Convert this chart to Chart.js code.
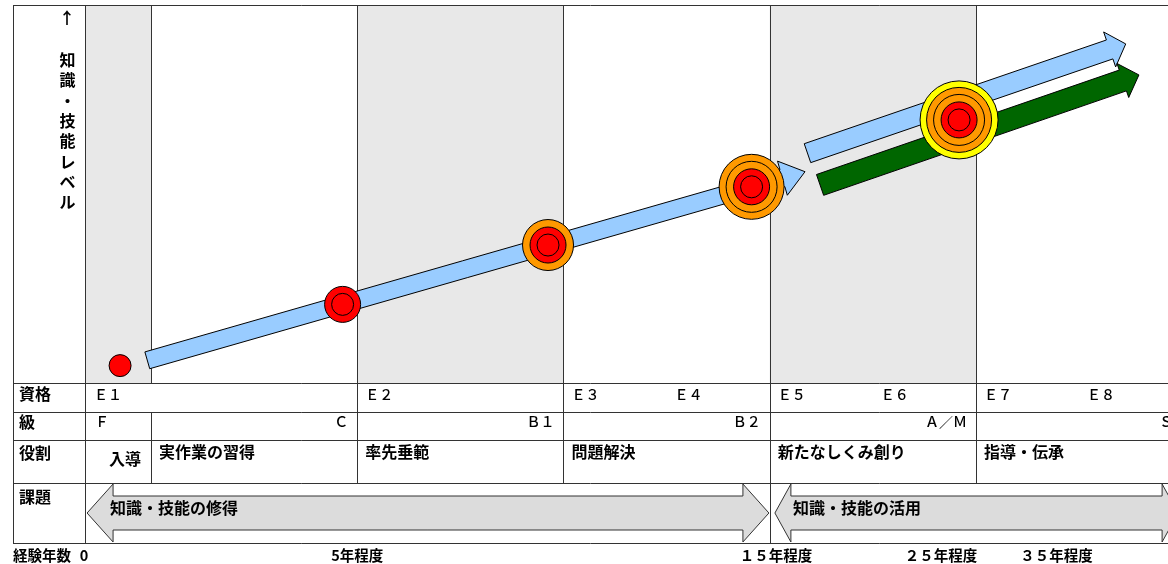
<!DOCTYPE html>
<html>
<head>
<meta charset="utf-8">
<script src="https://cdn.jsdelivr.net/npm/chart.js@4.4.1/dist/chart.umd.min.js"></script>
<style>
  html, body { margin: 0; padding: 0; background: #fff; }
  canvas { display: block; }
</style>
</head>
<body>
<canvas id="growthChart" width="1168" height="564"></canvas>
<script>
// x axis runs in stage units: each career stage is one unit wide,
// the narrow 入導 column sits left of 0
const stageNames = ["入導", "実作業の習得", "率先垂範", "問題解決", "新たなしくみ創り", "指導・伝承"];
const stageEdges = [-0.315, 0, 1, 2, 3, 4];
const shadedStages = [0, 2, 4];
const rowTitles = ["資格", "級", "役割", "課題"];
const yTitle = "知識・技能レベル";
const xTitle = "経験年数";

const qualLabels = ["Ｅ１", "Ｅ２", "Ｅ３", "Ｅ４", "Ｅ５", "Ｅ６", "Ｅ７", "Ｅ８"];
const qualAt = [-0.315, 1, 2, 2.5, 3, 3.5, 4, 4.5];
const gradeLabels = ["Ｆ", "Ｃ", "Ｂ１", "Ｂ２", "Ａ／Ｍ", "Ｓ"];

const taskLabels = ["知識・技能の修得", "知識・技能の活用"];
const taskFrom = [-0.31, 3.025];
const taskTo = [2.996, 4.98];

const yearLabels = ["0", "5年程度", "１５年程度", "２５年程度", "３５年程度"];
const yearAt = [-0.325, 1.0, 3.03, 3.83, 4.39];

// milestones along the growth path (level 0-100)
const milestoneStage = [-0.15, 0.929, 1.925, 2.912, 3.918];
const milestoneLevel = [4.6, 20.8, 36.5, 51.9, 69.6];
const milestoneRings = [1, 2, 3, 4, 5];

// growth arrows
const arrowFromStage = [-0.018, 3.183, 3.244];
const arrowFromLevel = [6.0, 60.8, 52.4];
const arrowToStage = [3.171, 4.726, 4.79];
const arrowToLevel = [55.9, 89.7, 81.5];

// styles
const ringRadius = [11, 18, 25.5, 32.5, 39];
const ringColor = ["#ff0000", "#ff0000", "#ff9900", "#ff9900", "#ffff00"];
const arrowFill = ["#99ccff", "#99ccff", "#006600"];
const arrowShaft = [17.5, 20, 22];
const arrowHead = [35.5, 37, 36];
const arrowHeadLen = [23.5, 17, 17];
const taskHeadLen = [26, 16];
const JP = "'Noto Sans CJK JP', 'Noto Sans', sans-serif";
const lineColor = "#333";

const bubbleSets = ringRadius.map((r, d) => ({
  data: milestoneStage
    .map((x, i) => ({ x: x, y: milestoneLevel[i] }))
    .filter((p, i) => milestoneRings[i] > d),
  pointRadius: r,
  pointBackgroundColor: ringColor[d],
  pointBorderColor: "#000",
  pointBorderWidth: 1,
}));

function hLine(ctx, x0, x1, y) {
  ctx.beginPath();
  ctx.moveTo(x0, Math.round(y) + 0.5);
  ctx.lineTo(x1, Math.round(y) + 0.5);
  ctx.stroke();
}
function vLine(ctx, x, y0, y1) {
  ctx.beginPath();
  ctx.moveTo(Math.round(x) + 0.5, y0);
  ctx.lineTo(Math.round(x) + 0.5, y1);
  ctx.stroke();
}

function blockArrow(ctx, sx, sy, tx, ty, shaft, head, headLen) {
  const len = Math.hypot(tx - sx, ty - sy);
  const ux = (tx - sx) / len, uy = (ty - sy) / len;
  const nx = -uy, ny = ux;
  const bx = tx - ux * headLen, by = ty - uy * headLen;
  const w = shaft / 2, h = head / 2;
  ctx.beginPath();
  ctx.moveTo(sx + nx * w, sy + ny * w);
  ctx.lineTo(bx + nx * w, by + ny * w);
  ctx.lineTo(bx + nx * h, by + ny * h);
  ctx.lineTo(tx, ty);
  ctx.lineTo(bx - nx * h, by - ny * h);
  ctx.lineTo(bx - nx * w, by - ny * w);
  ctx.lineTo(sx - nx * w, sy - ny * w);
  ctx.closePath();
}

function twoWayArrow(ctx, x0, x1, yTop, yBot, sTop, sBot, headLen) {
  const yMid = (yTop + yBot) / 2;
  ctx.beginPath();
  ctx.moveTo(x0, yMid);
  ctx.lineTo(x0 + headLen, yTop);
  ctx.lineTo(x0 + headLen, sTop);
  ctx.lineTo(x1 - headLen, sTop);
  ctx.lineTo(x1 - headLen, yTop);
  ctx.lineTo(x1, yMid);
  ctx.lineTo(x1 - headLen, yBot);
  ctx.lineTo(x1 - headLen, sBot);
  ctx.lineTo(x0 + headLen, sBot);
  ctx.lineTo(x0 + headLen, yBot);
  ctx.closePath();
}

// background columns, grid and the table under the plot
const tablePlugin = {
  id: "tablePlugin",
  beforeDatasetsDraw(chart) {
    const ctx = chart.ctx;
    const xs = chart.scales.x;
    const ys = chart.scales.y;
    const area = chart.chartArea;
    const px = (v) => xs.getPixelForValue(v);
    const left = 13, right = chart.width;
    const rows = [area.bottom, 412, 440, 483, 543];

    ctx.save();
    ctx.fillStyle = "#fff";
    ctx.fillRect(0, 0, chart.width, chart.height);

    // shaded stage columns
    ctx.fillStyle = "#e8e8e8";
    shadedStages.forEach((s) => {
      const x0 = px(stageEdges[s]);
      const x1 = s + 1 < stageEdges.length ? px(stageEdges[s + 1]) : right;
      ctx.fillRect(x0, area.top, x1 - x0, area.bottom - area.top);
    });

    ctx.strokeStyle = lineColor;
    ctx.lineWidth = 1;
    hLine(ctx, left, right, area.top);
    rows.forEach((y) => hLine(ctx, left, right, y));
    vLine(ctx, left, area.top, rows[4]);
    vLine(ctx, area.left - 1, area.top, rows[4]);
    // plot columns
    stageEdges.slice(1).forEach((e) => vLine(ctx, px(e), area.top, rows[0]));
    // 資格 row
    stageEdges.slice(2).forEach((e) => vLine(ctx, px(e), rows[0], rows[1]));
    // 級 and 役割 rows
    stageEdges.slice(1).forEach((e) => vLine(ctx, px(e), rows[1], rows[3]));
    // 課題 row
    vLine(ctx, px(3), rows[3], rows[4]);

    // task arrows
    ctx.fillStyle = "#dcdcdc";
    ctx.strokeStyle = "#333";
    taskLabels.forEach((t, i) => {
      twoWayArrow(ctx, px(taskFrom[i]), px(taskTo[i]), 484, 542, 496, 530, taskHeadLen[i]);
      ctx.fill();
      ctx.stroke();
    });

    // texts
    ctx.fillStyle = "#000";
    ctx.textBaseline = "middle";
    ctx.textAlign = "left";
    ctx.font = "bold 16px " + JP;
    const titleY = [394, 422, 453, 497];
    rowTitles.forEach((t, i) => ctx.fillText(t, 19, titleY[i]));

    // y axis title, written top to bottom
    ctx.textAlign = "center";
    ctx.fillText("↑", 67, 18);
    [...yTitle].forEach((ch, i) => ctx.fillText(ch, 67.5, 60 + i * 20.3));

    ctx.textAlign = "left";
    ctx.font = "500 14px " + JP;
    qualLabels.forEach((t, i) => ctx.fillText(t, px(qualAt[i]) + 8, 395));

    gradeLabels.forEach((t, i) => {
      if (i === 0) {
        ctx.textAlign = "left";
        ctx.fillText(t, px(stageEdges[0]) + 9, 422);
      } else {
        ctx.textAlign = "right";
        const end = i + 1 < stageEdges.length ? px(stageEdges[i + 1]) : px(stageEdges[i]) + (px(1) - px(0));
        ctx.fillText(t, end - 9, 422);
      }
    });

    ctx.font = "bold 16px " + JP;
    stageNames.forEach((t, i) => {
      if (i === 0) {
        ctx.textAlign = "right";
        ctx.fillText(t, px(stageEdges[1]) - 10, 459);
      } else {
        ctx.textAlign = "left";
        ctx.fillText(t, px(stageEdges[i]) + 8, 452);
      }
    });

    ctx.textAlign = "left";
    taskLabels.forEach((t, i) => {
      ctx.fillText(t, px(taskFrom[i]) + taskHeadLen[i] - 3 + i * 5, 508);
    });

    ctx.font = "bold 14.5px " + JP;
    ctx.fillText(xTitle, 13, 555);
    ctx.textAlign = "center";
    yearLabels.forEach((t, i) => ctx.fillText(t, px(yearAt[i]), 555));

    // growth arrows, under the milestones
    ctx.strokeStyle = "#000";
    arrowFill.forEach((c, i) => {
      blockArrow(ctx,
        px(arrowFromStage[i]), ys.getPixelForValue(arrowFromLevel[i]),
        px(arrowToStage[i]), ys.getPixelForValue(arrowToLevel[i]),
        arrowShaft[i], arrowHead[i], arrowHeadLen[i]);
      ctx.fillStyle = c;
      ctx.fill();
      ctx.stroke();
    });
    ctx.restore();
  },
};

new Chart(document.getElementById("growthChart").getContext("2d"), {
  type: "scatter",
  data: { datasets: bubbleSets },
  options: {
    responsive: false,
    animation: false,
    events: [],
    layout: { autoPadding: false, padding: { left: 86, top: 5, right: 0, bottom: 181 } },
    scales: {
      x: { type: "linear", min: -0.3152, max: 4.931, display: false },
      y: { type: "linear", min: 0, max: 100, display: false },
    },
    plugins: {
      legend: { display: false },
      tooltip: { enabled: false },
    },
  },
  plugins: [tablePlugin],
});
</script>
</body>
</html>
